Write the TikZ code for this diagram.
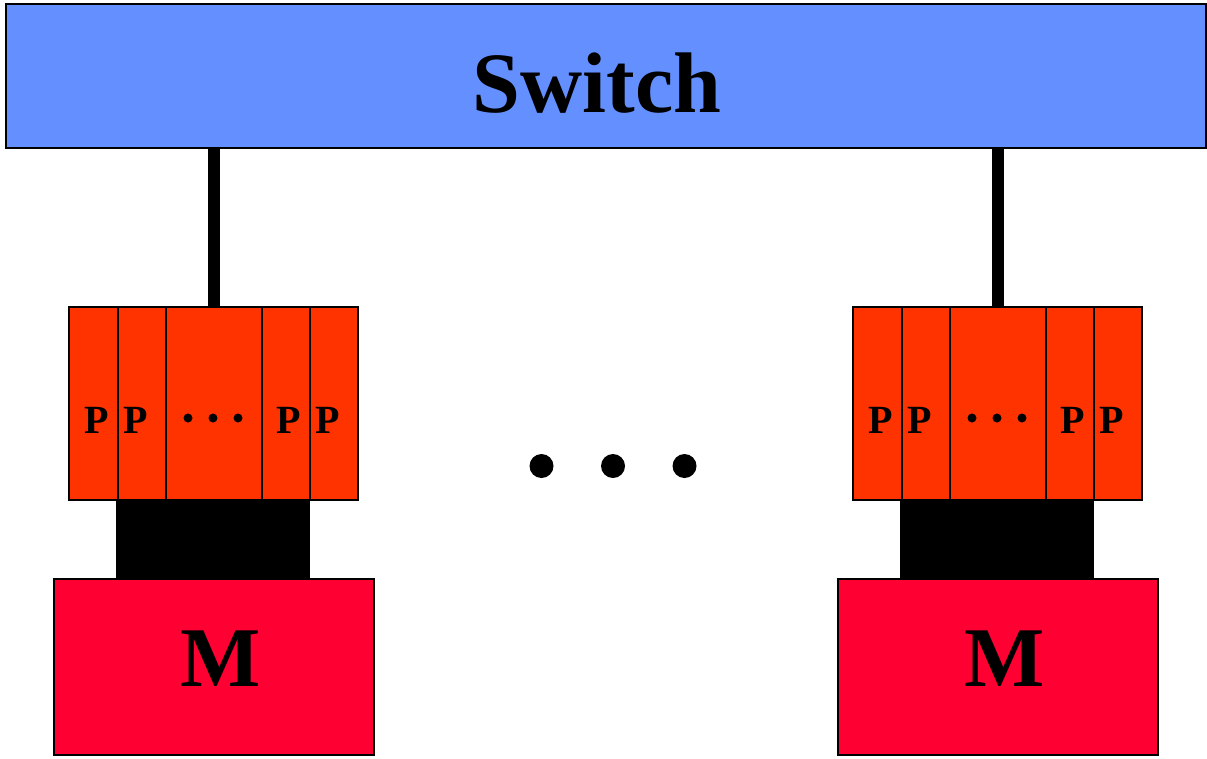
\documentclass[tikz,border=0pt]{standalone}
\usepackage{fontspec}
\setmainfont{Liberation Serif}
\definecolor{switchblue}{RGB}{99,143,255}
\definecolor{procred}{RGB}{255,51,0}
\definecolor{memred}{RGB}{255,0,51}
\tikzset{
  box/.style={draw=black, line width=1.5pt, inner sep=0pt, anchor=north west},
  panel/.style={box, fill=procred, minimum height=193pt},
  membox/.style={box, fill=memred, minimum width=320pt, minimum height=176pt},
  busbox/.style={fill=black, inner sep=0pt, anchor=north west, minimum width=194pt, minimum height=79pt},
  wire/.style={line width=12pt, draw=black},
  plabel/.style={anchor=base, inner sep=0pt, font=\fontsize{40}{40}\selectfont\bfseries},
  bigdot/.style={circle, fill=black, inner sep=0pt, minimum size=24pt},
  smalldot/.style={circle, fill=black, inner sep=0pt, minimum size=9pt},
}
\begin{document}
\begin{tikzpicture}[x=1pt, y=-1pt]
\useasboundingbox (0,0) rectangle (1207,758);
\node[box, fill=switchblue, minimum width=1200pt, minimum height=144pt] (sw) at (5,3) {};
\node[anchor=base, inner sep=0pt, font=\fontsize{86}{86}\selectfont\bfseries] (swtext) at (597,112) {Switch};
\foreach \g/\dx in {L/0, R/784} {
  \begin{scope}[xshift=\dx pt]
    \node[busbox] (\g bus) at (116,499) {};
    \node[membox] (\g mem) at (53,578) {};
    \node[panel, minimum width=49pt] (\g p1) at (68,306) {};
    \node[panel, minimum width=48pt] (\g p2) at (117,306) {};
    \node[panel, minimum width=96pt] (\g p3) at (165,306) {};
    \node[panel, minimum width=48pt] (\g p4) at (261,306) {};
    \node[panel, minimum width=48pt] (\g p5) at (309,306) {};
    \node[plabel] (\g l1) at (97,433) {P};
    \node[plabel] (\g l2) at (136,433) {P};
    \node[plabel] (\g l4) at (289,433) {P};
    \node[plabel] (\g l5) at (328,433) {P};
    \node[smalldot] (\g d1) at (188,418) {};
    \node[smalldot] (\g d2) at (213,418) {};
    \node[smalldot] (\g d3) at (238,418) {};
    \node[anchor=base, inner sep=0pt, font=\fontsize{85}{85}\selectfont\bfseries] (\g mtext) at (221,686) {M};
  \end{scope}
  \draw[wire] (\g p3.north) -- (\g p3.north |- sw.south);
}
\node[bigdot] (dot1) at (541.5,466) {};
\node[bigdot] (dot2) at (613,466) {};
\node[bigdot] (dot3) at (684.5,466) {};
\end{tikzpicture}
\end{document}
